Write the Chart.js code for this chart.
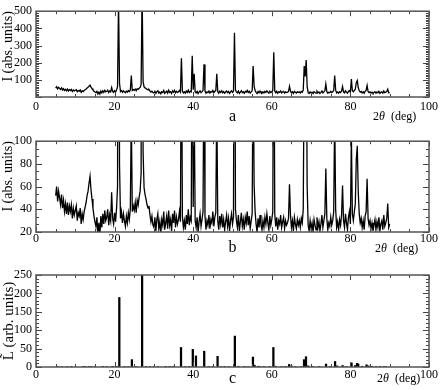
<!DOCTYPE html>
<html><head><meta charset="utf-8">
<script src="https://cdn.jsdelivr.net/npm/chart.js@4/dist/chart.umd.min.js"></script>
<style>
html,body{margin:0;padding:0;background:#fff;}
#wrap{position:relative;width:442px;height:390px;overflow:hidden;}
canvas{position:absolute;left:0;}
</style></head><body>
<div id="wrap">
<canvas id="ca" width="442" height="130" style="top:0px"></canvas>
<canvas id="cb" width="442" height="130" style="top:130px"></canvas>
<canvas id="cc" width="442" height="130" style="top:260px"></canvas>
</div>
<script>
// ---- data ----
const angleStart = 5;      // first 2θ of measured pattern (deg)
const angleStep = 0.25;    // sampling step (deg)
const measuredIntensity = [
 52,60,47,56, 50,44,53,41, 48,38,45,36, 46,35,43,38, 44,32,41,35,
 39,43,30,37, 34,41,27,36, 31,38,42,46, 52,56,63,69, 57,49,41,34,
 29,25,33,18, 28,17,34,24, 36,27,39,30, 33,40,26,35, 30,55,32,27,
 37,29,41,60, 560,80,32,38, 28,36,30,25, 34,28,37,31, 40,125,38,43,
 39,46,37,48, 44,51,56,72, 620,90,59,53, 49,44,41,43, 35,29,34,26,
 24,33,21,31, 36,23,29,19, 31,26,38,22, 28,34,23,39, 26,31,21,36,
 28,39,24,33, 27,31,38,29, 225,34,24,30, 22,35,27,40, 26,33,30,240,
 42,135,30,24, 33,20,29,36, 25,31,38,190, 34,22,30,26, 35,23,31,28,
 38,25,33,37, 135,30,22,34, 27,36,24,31, 22,29,35,25, 32,21,30,36,
 27,33,375,40, 30,24,35,21, 29,37,25,31, 22,33,28,38, 26,34,23,30,
 36,180,62,38, 27,20,32,24, 35,26,22,30, 24,33,27,36, 28,22,34,26,
 31,38,260,36, 25,33,22,30, 27,35,24,29, 33,23,30,26, 28,32,62,35,
 24,30,21,33, 27,23,31,26, 30,24,32,28, 40,180,120,215, 60,26,21,30,
 23,28,20,31, 26,22,33,24, 29,21,27,35, 24,30,36,76, 32,22,28,25,
 33,26,30,38, 125,40,24,29, 22,31,26,35, 61,30,24,36, 28,22,33,38,
 27,105,36,30, 38,45,84,96, 55,36,28,32, 24,30,22,34, 38,67,32,26,
 30,23,28,21, 26,31,22,29, 24,33,21,27, 30,22,35,25, 28,32,45,24,
 27
];
const stickAngles = [5.5,6.5,8,9,12,12.5,13.5,14,15,17,18,19.5,20.5,21.2,22.5,23.5,24.4,25.5,27.0,28,29,30,31,33,34,35,36.9,38,39,39.9,40.7,42.8,44,45,46.2,47,48,49,50.6,51.5,53,54,55.2,55.6,56.5,57,58,59.5,60.4,61,62.5,63.5,64.4,65,66,67.5,68.2,68.7,69.3,70.5,72,73.8,74.8,76.1,76.6,78.0,79,80.3,81.2,81.7,82.0,83,84.1,84.6,85.5,86.5,87.5,88.5,89];
const stickIntensity = [1,1,1,1.5,1,1.5,1,1,1,1.5,1,2,2,189,1,1,20,1,260,1.5,1,1,1,1.5,1.5,2,53,1,1.5,48,30,43,1,1.5,29,1,1.5,1,84,2,1.5,1,27,5,2,1,1,1.5,53,2,1,1.5,7,3,1.5,1,20,28,3,1,1.5,8,1.5,15,3,4,1,11,4,10,8,2,6,3,1.5,1,1.5,1,1];
const xTickValues = [0,20,40,60,80,100];
const panelLetters = ['a','b','c'];
const yTitles = ['I (abs. units)','I (abs. units)','L\u0303 (arb. units)'];

// ---- helpers ----
const measuredPoints = measuredIntensity.map((v,i)=>({x: angleStart + i*angleStep, y: v}));
const stickPoints = stickAngles.map((a,i)=>({x: a, y: stickIntensity[i]}));
const SERIF = '"Liberation Serif", "DejaVu Serif", serif';

const frameTicks = {
  id: 'frameTicks',
  afterDraw(chart, args, o) {
    const {ctx, chartArea: a, scales} = chart;
    const xs = scales.x, ys = scales.y;
    ctx.save();
    ctx.beginPath();
    ctx.strokeStyle = '#444'; ctx.lineWidth = 1;
    const xn = Math.round((xs.max - xs.min) / o.xMajor * o.xSub);
    for (let k = 0; k <= xn; k++) {
      const v = xs.min + k * o.xMajor / o.xSub;
      const px = Math.round(xs.getPixelForValue(v)) + 0.5;
      const L = (k % o.xSub === 0) ? 5 : 3;
      ctx.moveTo(px, a.bottom); ctx.lineTo(px, a.bottom - L);
      ctx.moveTo(px, a.top); ctx.lineTo(px, a.top + L);
    }
    const yn = Math.round((ys.max - ys.min) / o.yMajor * o.ySub);
    for (let k = 0; k <= yn; k++) {
      const v = ys.min + k * o.yMajor / o.ySub;
      const py = Math.round(ys.getPixelForValue(v)) + 0.5;
      const L = (k % o.ySub === 0) ? 6 : 3;
      ctx.moveTo(a.left, py); ctx.lineTo(a.left + L, py);
      ctx.moveTo(a.right, py); ctx.lineTo(a.right - L, py);
    }
    ctx.stroke();
    ctx.lineWidth = 1.5; ctx.strokeStyle = '#555';
    ctx.strokeRect(a.left, a.top, a.right - a.left, a.bottom - a.top);
    // 2θ (deg)
    ctx.fillStyle = '#000'; ctx.textBaseline = 'alphabetic'; ctx.textAlign = 'left';
    let tx = o.labelX; const ty = o.labelY;
    ctx.font = '12px ' + SERIF; ctx.fillText('2', tx, ty); tx += ctx.measureText('2').width;
    ctx.font = 'italic 12px ' + SERIF; ctx.fillText('\u03B8', tx, ty); tx += ctx.measureText('\u03B8').width;
    ctx.font = '12px ' + SERIF; ctx.fillText('  (deg)', tx, ty);
    ctx.restore();
  }
};

function makeChart(id, idx, cfg) {
  const isBar = cfg.type === 'bar';
  return new Chart(document.getElementById(id), {
    type: cfg.type,
    data: { datasets: [ isBar ? {
        data: stickPoints, backgroundColor: '#000', borderWidth: 0,
        barThickness: 1.6, maxBarThickness: 1.6, categoryPercentage: 1, barPercentage: 1
      } : {
        data: measuredPoints, borderColor: '#000', borderWidth: cfg.lw,
        pointRadius: 0, tension: 0, fill: false
      } ] },
    options: {
      responsive: false, animation: false, events: [],
      layout: { padding: { left: 0, right: 13, top: cfg.top, bottom: 0 } },
      plugins: { legend: { display: false }, tooltip: { enabled: false },
        frameTicks: { xMajor: 20, xSub: 4, yMajor: cfg.yStep, ySub: cfg.ySub, labelX: cfg.lx, labelY: cfg.ly } },
      scales: {
        x: {
          type: 'linear', min: 0, max: 100, offset: false,
          afterBuildTicks: s => { s.ticks = xTickValues.map(v => ({value: v})); },
          afterFit: s => { s.height = cfg.xh; },
          grid: { display: false, drawTicks: false, offset: false },
          border: { display: false },
          ticks: { color: '#000', font: { family: SERIF, size: 12 }, padding: cfg.xpad, maxRotation: 0, autoSkip: false },
          title: { display: true, text: panelLetters[idx], color: '#000',
                   font: { family: SERIF, size: 16 }, padding: { top: 0, bottom: cfg.tpad } }
        },
        y: {
          min: cfg.ymin, max: cfg.ymax,
          afterFit: s => { s.width = 36; },
          grid: { display: false, drawTicks: false },
          border: { display: false },
          ticks: { stepSize: cfg.yStep, autoSkip: false, color: '#000', font: { family: SERIF, size: 12 }, padding: 4,
                   callback: v => (cfg.hideZero && v === 0) ? '' : v },
          title: { display: true, text: yTitles[idx], color: '#000', align: cfg.talign,
                   font: { family: SERIF, size: cfg.ytsize }, padding: { top: 0, bottom: 0 } }
        }
      }
    },
    plugins: [frameTicks]
  });
}

makeChart('ca', 0, { type: 'line', lw: 1.3, top: 5, xh: 33, xpad: 3, tpad: 4, ymin: 0, ymax: 500, yStep: 100, ySub: 10, hideZero: true, ytsize: 14, talign: 'end', lx: 373, ly: 120 });
makeChart('cb', 1, { type: 'line', lw: 1.3, top: 11, xh: 28, xpad: 0, tpad: 3, ymin: 20, ymax: 100, yStep: 20, ySub: 3, hideZero: false, ytsize: 14, talign: 'end', lx: 375, ly: 122 });
makeChart('cc', 2, { type: 'bar', top: 15, xh: 23, xpad: 1, tpad: 2, ymin: 0, ymax: 250, yStep: 50, ySub: 5, hideZero: false, ytsize: 15, talign: 'center', lx: 377, ly: 122 });
</script>
</body></html>
